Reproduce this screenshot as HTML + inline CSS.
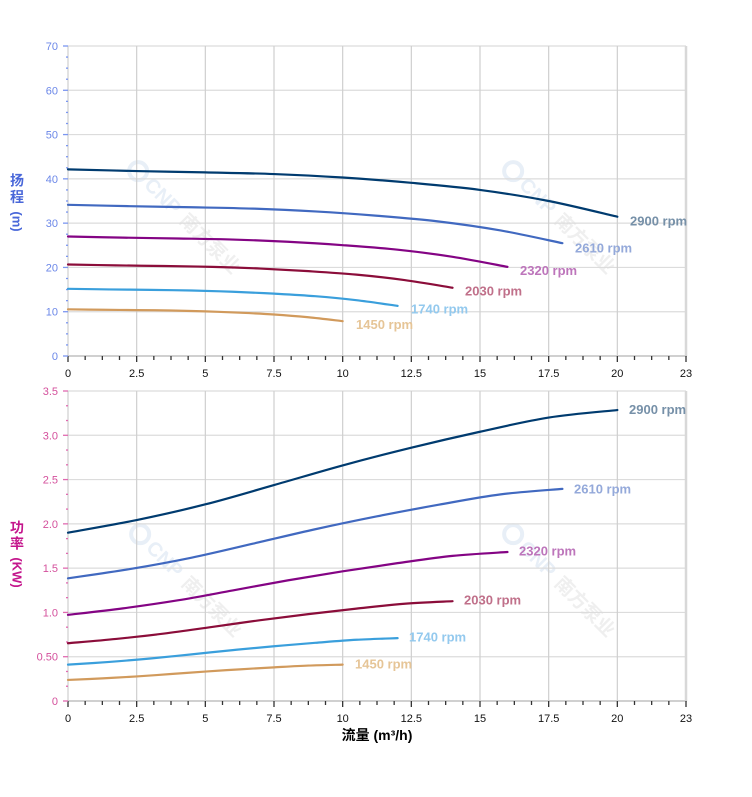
<!DOCTYPE html>
<html><head><meta charset="utf-8">
<style>
html,body{margin:0;padding:0;background:#fff;}
svg{display:block;}
text{font-family:"Liberation Sans","Noto Sans CJK SC",sans-serif;}
</style></head><body>
<svg id="c" width="752" height="797" viewBox="0 0 752 797" xmlns="http://www.w3.org/2000/svg">
<rect x="0" y="0" width="752" height="797" fill="#fff"/>
<!-- watermarks -->
<g transform="translate(182,215) rotate(45)">
 <circle cx="-62" cy="0" r="9" fill="none" stroke="#e8eff7" stroke-width="4"/>
 <text x="-48" y="7" font-size="20" font-weight="bold" fill="#e8eff7">CNP</text>
 <text x="2" y="7" font-size="19" font-weight="bold" fill="#efefef">南方泵业</text>
</g>
<g transform="translate(557,215) rotate(45)">
 <circle cx="-62" cy="0" r="9" fill="none" stroke="#e8eff7" stroke-width="4"/>
 <text x="-48" y="7" font-size="20" font-weight="bold" fill="#e8eff7">CNP</text>
 <text x="2" y="7" font-size="19" font-weight="bold" fill="#efefef">南方泵业</text>
</g>
<g transform="translate(184,578) rotate(45)">
 <circle cx="-62" cy="0" r="9" fill="none" stroke="#e8eff7" stroke-width="4"/>
 <text x="-48" y="7" font-size="20" font-weight="bold" fill="#e8eff7">CNP</text>
 <text x="2" y="7" font-size="19" font-weight="bold" fill="#efefef">南方泵业</text>
</g>
<g transform="translate(557,578) rotate(45)">
 <circle cx="-62" cy="0" r="9" fill="none" stroke="#e8eff7" stroke-width="4"/>
 <text x="-48" y="7" font-size="20" font-weight="bold" fill="#e8eff7">CNP</text>
 <text x="2" y="7" font-size="19" font-weight="bold" fill="#efefef">南方泵业</text>
</g>
<g id="grid"></g>
<g id="curves" fill="none" stroke-width="2.2" stroke-linecap="round"></g>

<!-- top y labels -->
<g font-size="11" fill="#6b87e8" text-anchor="end">
 <text x="58" y="50">70</text>
 <text x="58" y="94.3">60</text>
 <text x="58" y="138.6">50</text>
 <text x="58" y="182.9">40</text>
 <text x="58" y="227.1">30</text>
 <text x="58" y="271.4">20</text>
 <text x="58" y="315.7">10</text>
 <text x="58" y="360">0</text>
</g>
<!-- bottom y labels -->
<g font-size="11" fill="#d4509c" text-anchor="end">
 <text x="58" y="395">3.5</text>
 <text x="58" y="439.3">3.0</text>
 <text x="58" y="483.6">2.5</text>
 <text x="58" y="527.9">2.0</text>
 <text x="58" y="572.1">1.5</text>
 <text x="58" y="616.4">1.0</text>
 <text x="58" y="660.7">0.50</text>
 <text x="58" y="705">0</text>
</g>
<!-- x labels top -->
<g font-size="11" fill="#111" text-anchor="middle">
 <text x="68" y="377">0</text>
 <text x="136.7" y="377">2.5</text>
 <text x="205.3" y="377">5</text>
 <text x="274" y="377">7.5</text>
 <text x="342.7" y="377">10</text>
 <text x="411.3" y="377">12.5</text>
 <text x="480" y="377">15</text>
 <text x="548.7" y="377">17.5</text>
 <text x="617.3" y="377">20</text>
 <text x="686" y="377">23</text>
</g>
<g font-size="11" fill="#111" text-anchor="middle">
 <text x="68" y="722">0</text>
 <text x="136.7" y="722">2.5</text>
 <text x="205.3" y="722">5</text>
 <text x="274" y="722">7.5</text>
 <text x="342.7" y="722">10</text>
 <text x="411.3" y="722">12.5</text>
 <text x="480" y="722">15</text>
 <text x="548.7" y="722">17.5</text>
 <text x="617.3" y="722">20</text>
 <text x="686" y="722">23</text>
</g>
<!-- axis titles -->
<g font-weight="bold" fill="#4967d9" text-anchor="middle">
 <text x="17" y="185.5" font-size="14">扬</text>
 <text x="17" y="202" font-size="14">程</text>
 <text transform="translate(17,221.5) rotate(90)" x="0" y="4.5" font-size="13">(m)</text>
</g>
<g font-weight="bold" fill="#c4168c" text-anchor="middle">
 <text x="17" y="532.5" font-size="14">功</text>
 <text x="17" y="548.5" font-size="14">率</text>
 <text transform="translate(17,572.5) rotate(90)" x="0" y="4.5" font-size="13">(KW)</text>
</g>
<text x="377" y="740" font-size="14" font-weight="bold" fill="#000" text-anchor="middle">流量 (m³/h)</text>

<!-- curve labels -->
<g font-size="13" font-weight="bold">
 <text x="630" y="225.5" fill="#7690a8">2900 rpm</text>
 <text x="575" y="252.5" fill="#94a9da">2610 rpm</text>
 <text x="520" y="275" fill="#bd75bb">2320 rpm</text>
 <text x="465" y="295.5" fill="#c0708a">2030 rpm</text>
 <text x="411" y="313.5" fill="#93c9ee">1740 rpm</text>
 <text x="356" y="329" fill="#e6c597">1450 rpm</text>

 <text x="629" y="414" fill="#7690a8">2900 rpm</text>
 <text x="574" y="493.5" fill="#94a9da">2610 rpm</text>
 <text x="519" y="555.5" fill="#bd75bb">2320 rpm</text>
 <text x="464" y="604.5" fill="#c0708a">2030 rpm</text>
 <text x="409" y="641.5" fill="#93c9ee">1740 rpm</text>
 <text x="355" y="668.5" fill="#e6c597">1450 rpm</text>
</g>
</svg>
<script>
(function(){
var NS='http://www.w3.org/2000/svg';
var G=document.getElementById('grid');
var C=document.getElementById('curves');
function el(tag,attrs,parent){var e=document.createElementNS(NS,tag);for(var k in attrs)e.setAttribute(k,attrs[k]);parent.appendChild(e);return e;}
function line(x1,y1,x2,y2,c,w){el('line',{x1:x1,y1:y1,x2:x2,y2:y2,stroke:c,'stroke-width':w},G);}
function chart(top,sub,tc){
  var bot=top+310,i,x,y;
  for(i=0;i<7;i++){y=top+i*310/7;line(68,y,686,y,'#dcdcdc',1.2);}
  for(i=0;i<=9;i++){x=68+i*618/9;line(x,top,x,bot,i==9?'#d8d8d8':'#cfcfcf',i==9?2.5:1.2);}
  line(68,bot,687,bot,'#d0d0d0',2);
  for(i=0;i<=36;i++){x=68+i*618/36;line(x,bot,x,bot+(i%4==0?6:4),'#333',1.3);}
  var n=7*sub;
  for(i=0;i<=n;i++){y=top+i*310/n;var maj=(i%sub==0);line(maj?63:66,y,68,y,tc,1.3);}
}
chart(46,4,'#7b96f0');
chart(391,3,'#e06ab0');
function X(q){return 68+q*618/22.5;}
function Y1(h){return 356-h*310/70;}
function Y2(p){return 701-p*310/3.5;}
function path(pts){
  var d='M'+pts[0][0].toFixed(2)+','+pts[0][1].toFixed(2);
  for(var i=0;i<pts.length-1;i++){
    var p0=pts[i-1]||pts[i],p1=pts[i],p2=pts[i+1],p3=pts[i+2]||pts[i+1];
    var c1x=p1[0]+(p2[0]-p0[0])/6,c1y=p1[1]+(p2[1]-p0[1])/6;
    var c2x=p2[0]-(p3[0]-p1[0])/6,c2y=p2[1]-(p3[1]-p1[1])/6;
    d+=' C'+c1x.toFixed(2)+','+c1y.toFixed(2)+' '+c2x.toFixed(2)+','+c2y.toFixed(2)+' '+p2[0].toFixed(2)+','+p2[1].toFixed(2);
  }
  return d;
}
var Hd=[42.15,41.76,41.46,41.08,40.3,39.1,37.5,35.0,31.45];
var Pw=[1.90,2.043,2.22,2.438,2.66,2.86,3.04,3.20,3.285];
var spd=[[2900,'#003b6f'],[2610,'#4169c0'],[2320,'#840484'],[2030,'#8b0d3a'],[1740,'#3a9fdc'],[1450,'#d19a5c']];
spd.forEach(function(s){
  var r=s[0]/2900,ph=[],pp=[];
  for(var i=0;i<9;i++){
    var q=i*2.5*r;
    ph.push([X(q),Y1(Hd[i]*r*r)]);
    pp.push([X(q),Y2(Pw[i]*r*r*r)]);
  }
  el('path',{d:path(ph),stroke:s[1]},C);
  el('path',{d:path(pp),stroke:s[1]},C);
});
})();
</script>
</body></html>
